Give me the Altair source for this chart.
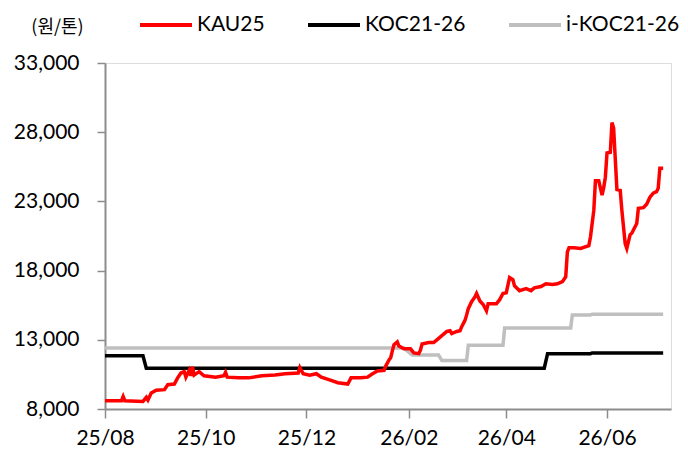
import altair as alt
import pandas as pd

series_names = ["KAU25", "KOC21-26", "i-KOC21-26"]
series_colors = ["#FF0000", "#000000", "#BFBFBF"]

kau_dates = [
    "2025-08-01", "2025-08-10", "2025-08-11", "2025-08-12", "2025-08-13", "2025-08-24",
    "2025-08-26", "2025-08-27", "2025-08-29", "2025-09-01", "2025-09-06", "2025-09-08",
    "2025-09-12", "2025-09-14", "2025-09-16", "2025-09-18", "2025-09-19", "2025-09-21",
    "2025-09-22", "2025-09-23", "2025-09-24", "2025-09-27", "2025-09-30", "2025-10-07",
    "2025-10-12", "2025-10-13", "2025-10-14", "2025-10-21", "2025-10-27", "2025-11-04",
    "2025-11-12", "2025-11-18", "2025-11-26", "2025-11-27", "2025-11-29", "2025-12-03",
    "2025-12-07", "2025-12-10", "2025-12-15", "2025-12-20", "2025-12-26", "2025-12-28",
    "2026-01-03", "2026-01-07", "2026-01-10", "2026-01-13", "2026-01-17", "2026-01-18",
    "2026-01-20", "2026-01-21", "2026-01-22", "2026-01-23", "2026-01-25", "2026-01-26",
    "2026-01-29", "2026-02-02", "2026-02-04", "2026-02-07", "2026-02-08", "2026-02-09",
    "2026-02-13", "2026-02-16", "2026-02-18", "2026-02-21", "2026-02-24", "2026-02-26",
    "2026-02-27", "2026-03-02", "2026-03-04", "2026-03-05", "2026-03-07", "2026-03-08",
    "2026-03-09", "2026-03-11", "2026-03-13", "2026-03-14", "2026-03-16", "2026-03-18",
    "2026-03-20", "2026-03-21", "2026-03-24", "2026-03-26", "2026-03-28", "2026-03-30",
    "2026-04-01", "2026-04-03", "2026-04-05", "2026-04-06", "2026-04-09", "2026-04-13",
    "2026-04-16", "2026-04-18", "2026-04-22", "2026-04-25", "2026-04-29", "2026-05-02",
    "2026-05-05", "2026-05-07", "2026-05-08", "2026-05-09", "2026-05-12", "2026-05-16",
    "2026-05-21", "2026-05-22", "2026-05-24", "2026-05-25", "2026-05-27", "2026-05-29",
    "2026-05-30", "2026-05-31", "2026-06-01", "2026-06-03", "2026-06-04", "2026-06-05",
    "2026-06-07", "2026-06-09", "2026-06-10", "2026-06-12", "2026-06-13", "2026-06-15",
    "2026-06-16", "2026-06-19", "2026-06-20", "2026-06-23", "2026-06-25", "2026-06-27",
    "2026-06-29", "2026-07-01", "2026-07-02", "2026-07-03", "2026-07-05",
]
kau_values = [
    8600, 8600, 8600, 8900, 8600, 8550,
    8850, 8650, 9150, 9350, 9400, 9750,
    9800, 10250, 10600, 10700, 10300, 10800,
    10400, 11050, 10450, 10700, 10400, 10300,
    10400, 10650, 10300, 10250, 10250, 10400,
    10450, 10550, 10600, 11000, 10550, 10450,
    10550, 10300, 10100, 9900, 9800, 10250,
    10250, 10300, 10550, 10750, 10800, 11100,
    11550, 11700, 12200, 12650, 12850, 12550,
    12350, 12350, 12050, 12000, 12250, 12700,
    12800, 12800, 13000, 13300, 13600, 13650,
    13450, 13600, 13650, 13950, 14400, 14800,
    15250, 15750, 16100, 16350, 15800, 15550,
    15100, 15600, 15600, 15600, 15900, 16350,
    16400, 17500, 17350, 16900, 16550, 16700,
    16550, 16750, 16850, 17050, 17000, 17050,
    17200, 17550, 19350, 19650, 19650, 19600,
    19800, 20450, 22350, 24500, 24500, 23450,
    24000, 24750, 26500, 26550, 28700, 28300,
    23850, 23800, 22350, 19950, 19600, 20600,
    20700, 21400, 22500, 22550, 22800, 23300,
    23600, 23700, 23950, 25400, 25400,
]

koc_dates = ["2025-08-01", "2025-08-24", "2025-08-26", "2026-04-24", "2026-04-26",
             "2026-05-22", "2026-05-23", "2026-07-05"]
koc_values = [11850, 11850, 10950, 10950, 12000, 12000, 12050, 12050]

ikoc_dates = ["2025-08-01", "2026-01-29", "2026-02-03", "2026-02-19", "2026-02-21",
              "2026-03-08", "2026-03-09", "2026-03-30", "2026-03-31", "2026-05-10",
              "2026-05-11", "2026-05-22", "2026-05-23", "2026-07-05"]
ikoc_values = [12400, 12400, 11900, 11900, 11500, 11500, 12600, 12600, 13850, 13850,
               14800, 14800, 14850, 14850]

y_ticks = [8000, 13000, 18000, 23000, 28000, 33000]
x_tick_dates = [(2025, 8), (2025, 10), (2025, 12), (2026, 2), (2026, 4), (2026, 6)]

frames = []
for name, d, v in [("KAU25", kau_dates, kau_values),
                   ("KOC21-26", koc_dates, koc_values),
                   ("i-KOC21-26", ikoc_dates, ikoc_values)]:
    frames.append(pd.DataFrame({"series": name, "date": d, "value": v}))
df = pd.concat(frames, ignore_index=True)

color_scale = alt.Scale(domain=series_names, range=series_colors)

x_enc = alt.X(
    "date:T",
    scale=alt.Scale(
        type="utc",
        domain=[alt.DateTime(year=2025, month=8, date=1, utc=True),
                alt.DateTime(year=2026, month=7, date=9, hours=18, utc=True)],
    ),
    axis=alt.Axis(
        values=[alt.DateTime(year=y, month=m, date=1, utc=True) for y, m in x_tick_dates],
        labelExpr="utcFormat(datum.value, '%y/%m')", title=None, grid=False,
        labelFont="Lato", labelFontSize=21, labelColor="#000000",
        labelPadding=9, tickSize=9, tickColor="#8C8C8C", tickWidth=1.5,
        domainColor="#8C8C8C", domainWidth=2, labelFlush=False,
    ),
)
y_enc = alt.Y(
    "value:Q",
    scale=alt.Scale(domain=[8000, 33000], nice=False, zero=False),
    axis=alt.Axis(
        values=y_ticks, labelExpr="format(datum.value, ',')", grid=False,
        title="(원/톤)", titleAngle=0, titleFont="Noto Sans CJK KR", titleFontSize=18,
        titleFontWeight="normal", titleColor="#000000",
        titleX=-48, titleY=-36, titleAlign="center", titleBaseline="middle",
        labelFont="Lato", labelFontSize=21, labelColor="#000000",
        labelPadding=18, tickSize=8, tickColor="#8C8C8C", tickWidth=1.5,
        domainColor="#8C8C8C", domainWidth=2,
    ),
)
color_enc = alt.Color(
    "series:N", scale=color_scale, sort=series_names,
    legend=alt.Legend(
        title=None, orient="none", legendX=33, legendY=-66, direction="horizontal",
        columns=3, columnPadding=35, labelOffset=3, symbolType="stroke", padding=0,
        symbolSize=2704, symbolStrokeWidth=4, labelFont="Lato", labelFontSize=21,
        labelColor="#000000", labelLimit=300,
    ),
)

layers = []
for name in ["i-KOC21-26", "KOC21-26", "KAU25"]:
    layers.append(
        alt.Chart(df)
        .transform_filter(alt.datum.series == name)
        .mark_line(strokeWidth=3.5, interpolate="linear")
        .encode(x=x_enc, y=y_enc, color=color_enc)
    )

chart = (
    alt.layer(*layers)
    .properties(
        width=566, height=346,
        padding={"left": 97, "top": 55, "right": 9, "bottom": 40},
        autosize=alt.AutoSizeParams(type="none"),
    )
    .configure_view(stroke=None)
    .configure(background="white")
)

chart.save("out.html", embed_options={"renderer": "svg", "actions": False})
